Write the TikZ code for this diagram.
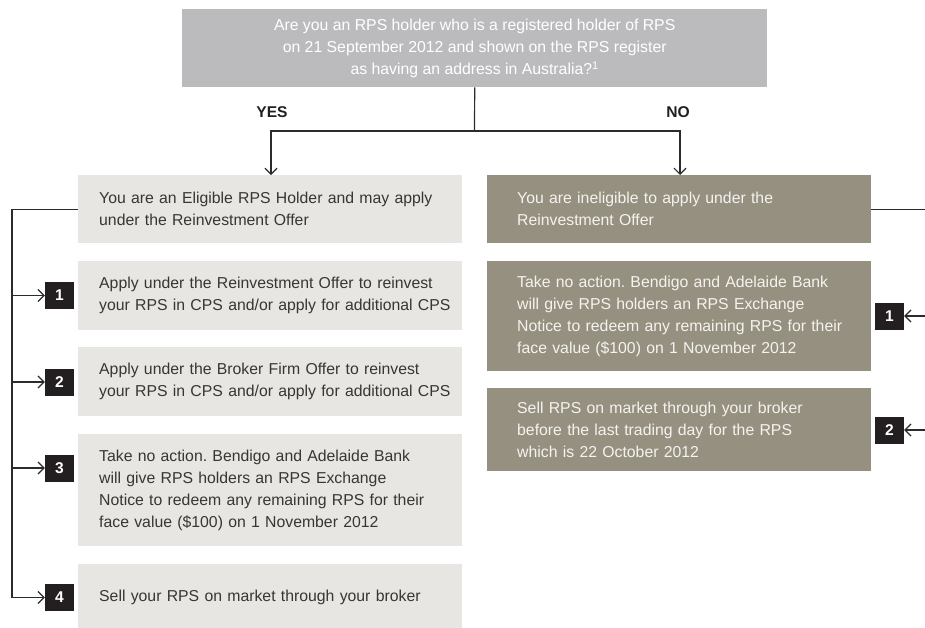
\documentclass[tikz,border=0pt]{standalone}
\usepackage{fontspec}
\setmainfont{Liberation Sans}
\frenchspacing
\usetikzlibrary{arrows.meta}
\definecolor{topc}{HTML}{BBBBBE}
\definecolor{lboxc}{HTML}{E8E6E2}
\definecolor{rboxc}{HTML}{959080}
\definecolor{badgec}{HTML}{231F20}
\definecolor{linec}{HTML}{2B2B2B}
\definecolor{ltext}{HTML}{363636}
\definecolor{rtext}{HTML}{F5F3EE}
\newcommand\lpad[1]{{\frenchspacing\leftskip=21pt\relax #1\par}}
\newcommand\rpad[1]{{\frenchspacing\leftskip=30pt\relax #1\par}}
\begin{document}
\begin{tikzpicture}[x=1pt,y=-1pt,
  txt/.style={font=\fontsize{15.8}{22}\selectfont},
  qbox/.style={txt, fill=topc, text=white, align=center, inner sep=0pt,
    minimum width=585pt, minimum height=78pt, anchor=north west},
  lbox/.style={txt, fill=lboxc, text=ltext, align=left, inner sep=0pt,
    text width=384pt, anchor=north west},
  rbox/.style={txt, fill=rboxc, text=rtext, align=left, inner sep=0pt,
    text width=384pt, anchor=north west},
  badge/.style={fill=badgec, text=white, inner sep=0pt, minimum width=29pt,
    minimum height=27pt, font=\fontsize{15.6}{18}\selectfont\bfseries},
  ans/.style={font=\fontsize{15.6}{18}\selectfont\bfseries, text=badgec},
  conn/.style={draw=linec, line width=1.2pt},
  arr/.style={conn, -{Straight Barb[length=6pt,width=12pt,line width=1.2pt]}}
]
\useasboundingbox (0,0) rectangle (925,627);

% question
\node[qbox] (q) at (182,9) {\frenchspacing Are you an RPS holder who is a registered holder of RPS\\
on 21 September 2012 and shown on the RPS register\\
as having an address in Australia?\textsuperscript{1}};

\node[ans] (yes) at (272,112) {YES};
\node[ans] (no) at (678,112) {NO};

% left column
\node[lbox, minimum height=68pt] (L0) at (78,175) {\lpad{You are an Eligible RPS Holder and may apply\\ under the Reinvestment Offer}};
\node[lbox, minimum height=69pt] (L1) at (78,261) {\lpad{Apply under the Reinvestment Offer to reinvest\\ your RPS in CPS and/or apply for additional CPS}};
\node[lbox, minimum height=69pt] (L2) at (78,347) {\lpad{Apply under the Broker Firm Offer to reinvest\\ your RPS in CPS and/or apply for additional CPS}};
\node[lbox, minimum height=112pt] (L3) at (78,434) {\lpad{Take no action. Bendigo and Adelaide Bank\\ will give RPS holders an RPS Exchange\\ Notice to redeem any remaining RPS for their\\ face value (\$100) on 1 November 2012}};
\node[lbox, minimum height=66pt] (L4) at (78,564) {\lpad{Sell your RPS on market through your broker}};

% right column
\node[rbox, minimum height=68pt] (R0) at (487,175) {\rpad{You are ineligible to apply under the\\ Reinvestment Offer}};
\node[rbox, minimum height=110pt] (R1) at (487,261) {\rpad{Take no action. Bendigo and Adelaide Bank\\ will give RPS holders an RPS Exchange\\ Notice to redeem any remaining RPS for their\\ face value (\$100) on 1 November 2012}};
\node[rbox, minimum height=83pt] (R2) at (487,388) {\rpad{Sell RPS on market through your broker\\ before the last trading day for the RPS\\ which is 22 October 2012}};

% badges
\node[badge] (b1) at (59.5,295.5) {1};
\node[badge] (b2) at (59.5,382) {2};
\node[badge] (b3) at (59.5,468) {3};
\node[badge] (b4) at (59.5,597.5) {4};
\node[badge] (rb1) at (889.5,316) {1};
\node[badge] (rb2) at (889.5,430) {2};

% top branching
\coordinate (j) at (474.5,131);
\coordinate (jy) at (271,131);
\coordinate (jn) at (680,131);
\draw[conn] (q.south) -- (j);
\draw[arr] (j) -- (jy) -- (L0.north -| jy);
\draw[arr] (j) -- (jn) -- (R0.north -| jn);

% left trunk
\coordinate (lt) at (12,210);
\draw[conn] (L0.west) -- (L0.west -| lt) -- (b4.west -| lt);
\foreach \b in {b1,b2,b3,b4}{\draw[arr] (\b.west -| lt) -- (\b.west);}

% right trunk
\coordinate (rt) at (929,210);
\draw[conn] (R0.east) -- (R0.east -| rt) -- (rb2.east -| rt);
\foreach \b in {rb1,rb2}{\draw[arr] (\b.east -| rt) -- (\b.east);}
\end{tikzpicture}
\end{document}
